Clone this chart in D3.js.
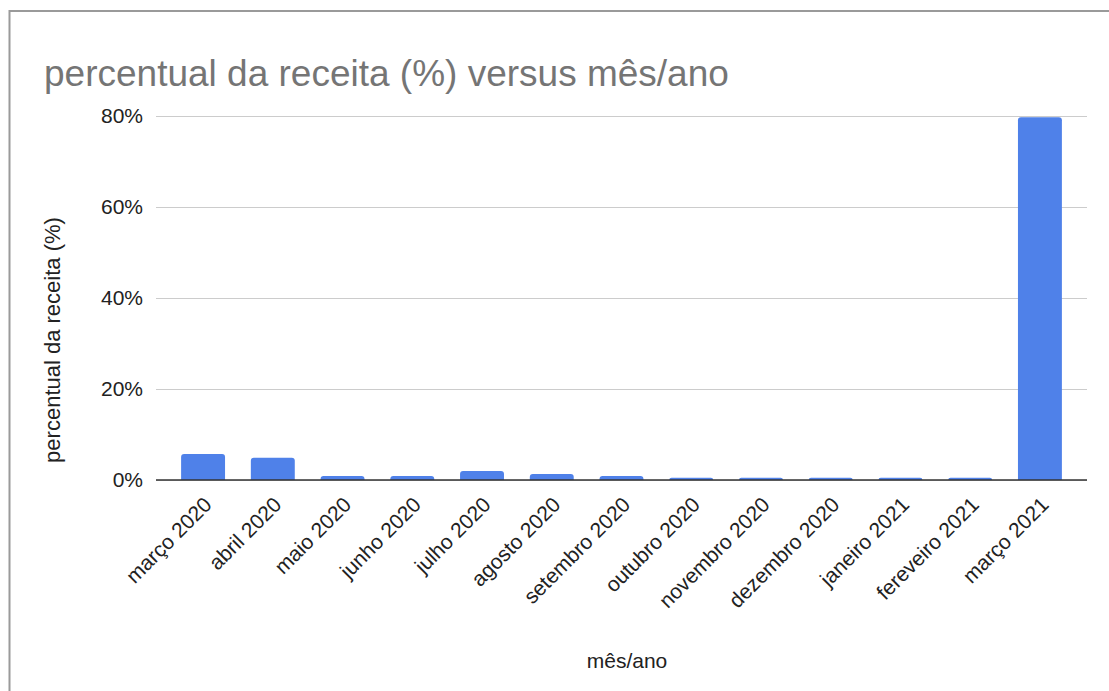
<!DOCTYPE html>
<html>
<head>
<meta charset="utf-8">
<script src="https://cdn.jsdelivr.net/npm/d3@7"></script>
<style>
  body { margin: 0; background: #fff; }
  svg { display: block; font-family: "Liberation Sans", Arial, sans-serif; }
</style>
</head>
<body>
<div id="chart"></div>
<script>
// meses e percentual da receita
let months = ["março 2020", "abril 2020", "maio 2020", "junho 2020", "julho 2020",
              "agosto 2020", "setembro 2020", "outubro 2020", "novembro 2020",
              "dezembro 2020", "janeiro 2021", "fereveiro 2021", "março 2021"];
let revenuePct = [5.7, 4.9, 0.9, 0.9, 2.0, 1.3, 0.9, 0.5, 0.5, 0.5, 0.5, 0.5, 79.7];
let yTicks = [0, 20, 40, 60, 80];

let width = 1109;
let height = 691;
let plotLeft = 156, plotRight = 1087, plotTop = 116, plotBottom = 480;
let fontFam = "Liberation Sans, Arial, sans-serif";

let svg = d3.select("#chart")
    .append("svg")
    .attr("width", width)
    .attr("height", height);

// moldura cinza (sai da imagem à direita e embaixo)
svg.append("rect")
    .attr("x", 9.5).attr("y", 11)
    .attr("width", 1200).attr("height", 800)
    .attr("fill", "none")
    .attr("stroke", "#9a9a9a")
    .attr("stroke-width", 2);

svg.append("text")
    .attr("x", 44).attr("y", 86)
    .attr("font-size", 37)
    .attr("fill", "#757575")
    .text("percentual da receita (%) versus mês/ano");

let xScale = d3.scaleBand()
    .domain(months)
    .range([plotLeft, plotRight])
    .paddingInner(0.37)
    .paddingOuter(0.36);

let yScale = d3.scaleLinear()
    .domain([0, 80])
    .range([plotBottom, plotTop]);

// linhas de grade
let y_axis = d3.axisLeft(yScale)
    .tickValues(yTicks)
    .tickSize(-(plotRight - plotLeft))
    .tickPadding(13)
    .tickFormat((d) => d + "%");

let yg = svg.append("g")
    .attr("transform", `translate(${plotLeft}, 0)`)
    .call(y_axis);
yg.select(".domain").remove();
yg.selectAll(".tick line").attr("stroke", "#cccccc").attr("stroke-width", 1);
yg.selectAll(".tick text")
    .attr("font-size", 21)
    .attr("fill", "#222")
    .attr("font-family", fontFam);

// barras com cantos superiores arredondados
let r = 3;
let barPath = (d, i) => {
    let x0 = xScale(months[i]);
    let x1 = x0 + xScale.bandwidth();
    let y0 = yScale(d);
    let rr = Math.min(r, (plotBottom - y0));
    return `M${x0},${plotBottom} L${x0},${y0 + rr} Q${x0},${y0} ${x0 + rr},${y0}
            L${x1 - rr},${y0} Q${x1},${y0} ${x1},${y0 + rr} L${x1},${plotBottom} Z`;
};

svg.append("g")
    .selectAll("path")
    .data(revenuePct)
    .join("path")
    .attr("d", barPath)
    .attr("fill", "#4f81e9");

// eixo x
let x_axis = d3.axisBottom(xScale).tickSize(0).tickPadding(0);
let xg = svg.append("g")
    .attr("transform", `translate(0, ${plotBottom})`)
    .call(x_axis);
xg.select(".domain").attr("stroke", "#333").attr("stroke-width", 1.5)
    .attr("d", `M${plotLeft},0H${plotRight}`);
xg.selectAll(".tick text")
    .attr("font-size", 21)
    .attr("fill", "#222")
    .attr("font-family", fontFam)
    .attr("text-anchor", "end")
    .attr("dy", "0")
    .attr("y", 0)
    .attr("transform", "translate(10, 26) rotate(-45)");

svg.append("text")
    .attr("x", 627)
    .attr("y", 668)
    .attr("text-anchor", "middle")
    .attr("font-size", 21)
    .attr("fill", "#222")
    .text("mês/ano");

svg.append("text")
    .attr("transform", `translate(60, 340) rotate(-90)`)
    .attr("text-anchor", "middle")
    .attr("font-size", 22)
    .attr("fill", "#222")
    .text("percentual da receita (%)");
</script>
</body>
</html>
